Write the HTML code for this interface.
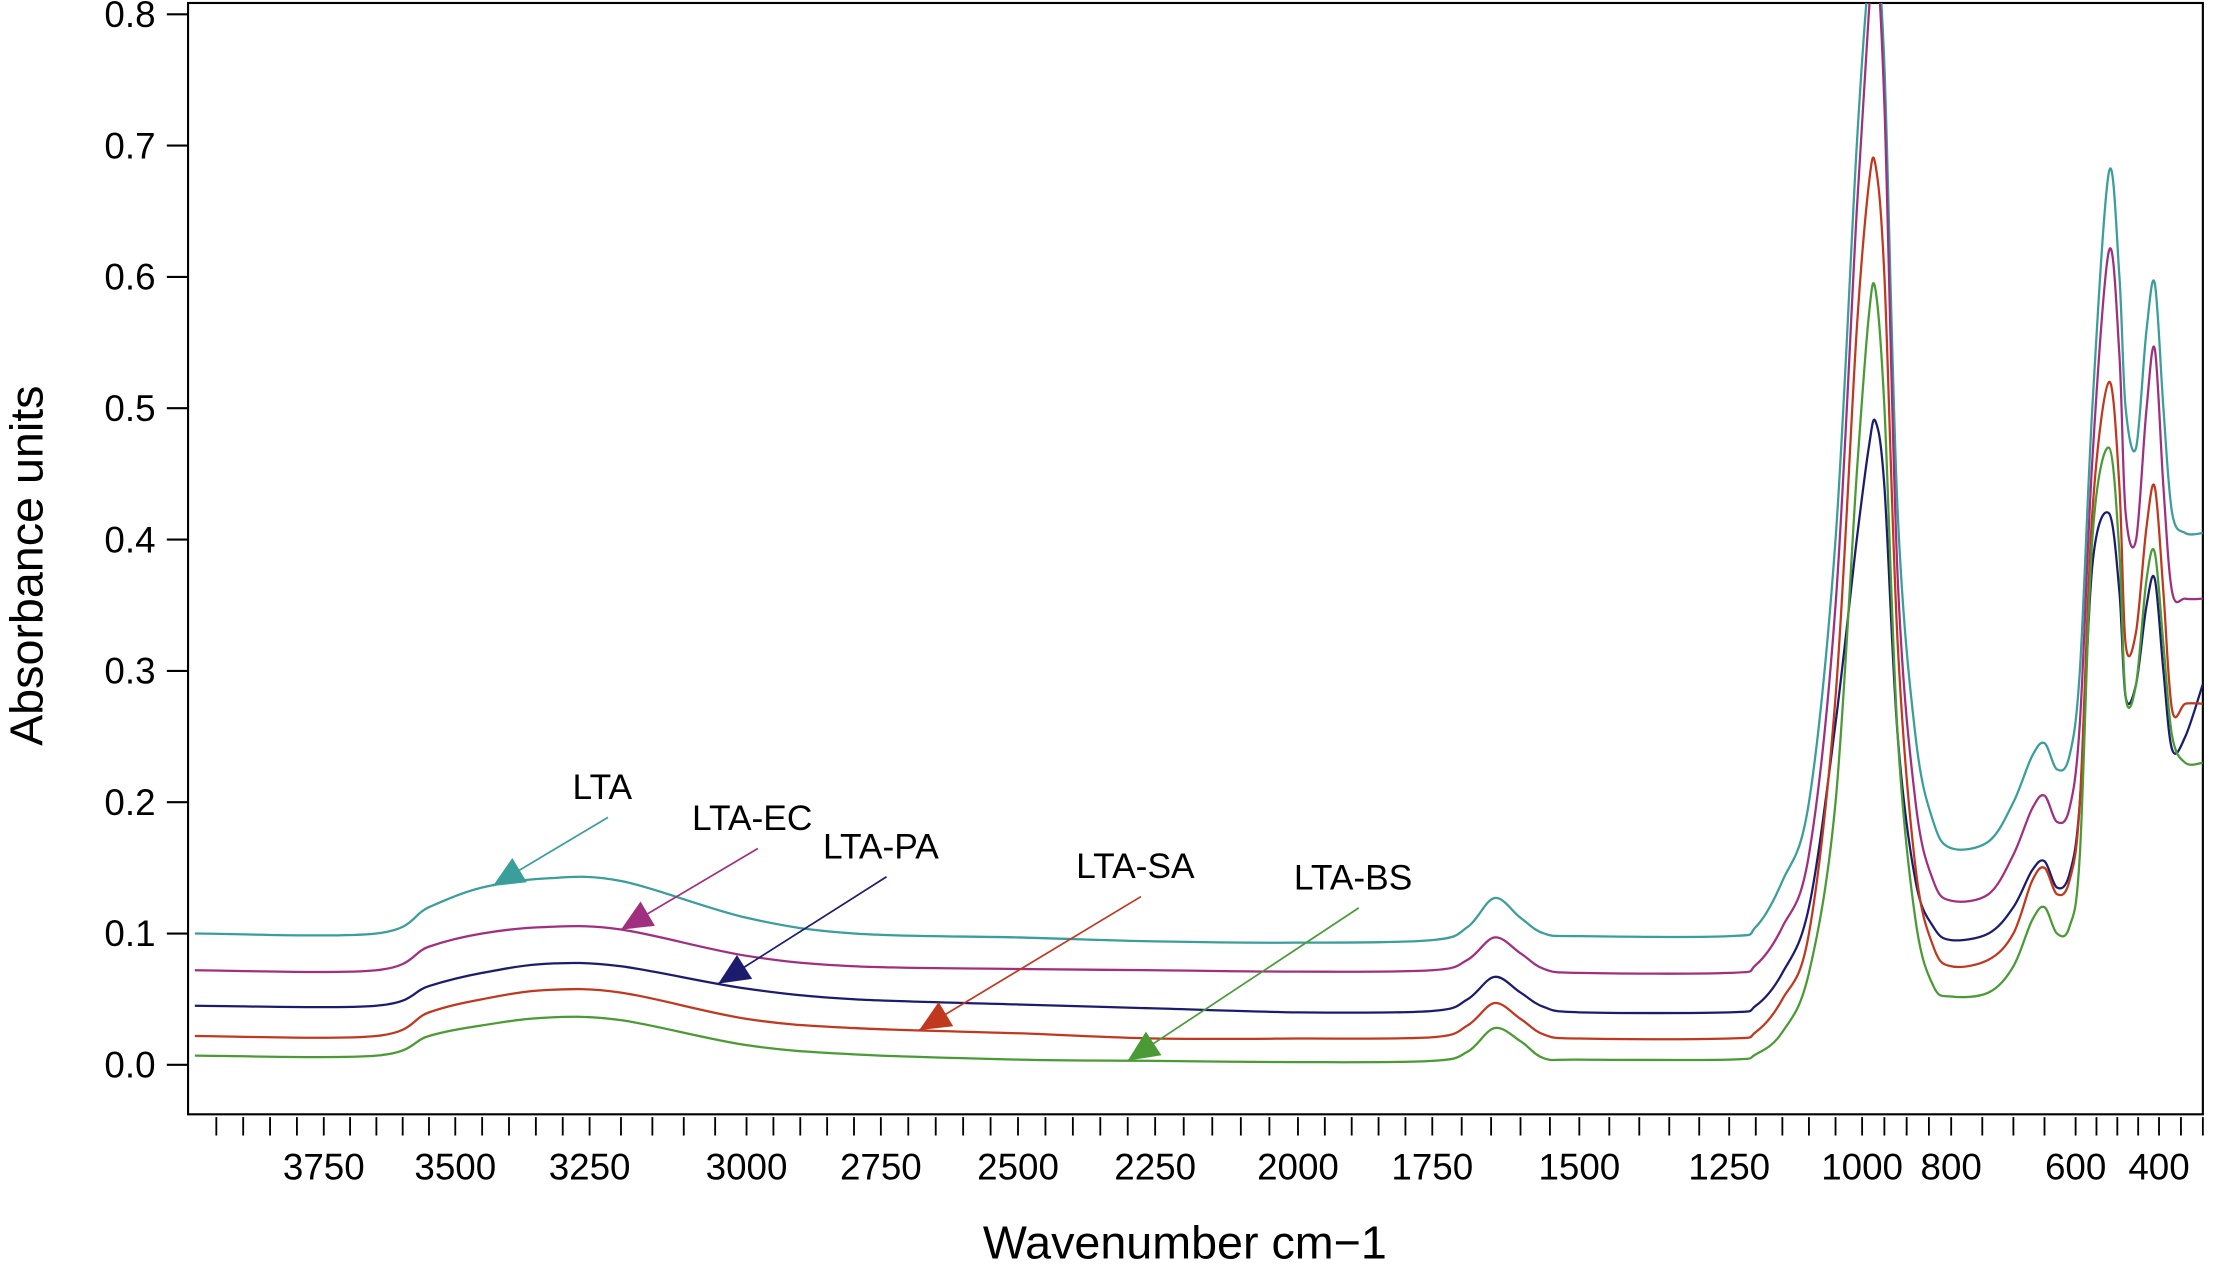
<!DOCTYPE html>
<html><head><meta charset="utf-8"><style>
html,body{margin:0;padding:0;background:#fff}
svg{display:block}
text{font-family:"Liberation Sans",Arial,sans-serif;fill:#000}
</style></head><body>
<svg id="chart" width="2217" height="1270" viewBox="0 0 1568 898" xmlns="http://www.w3.org/2000/svg">
<defs><clipPath id="pc"><rect x="133" y="2" width="1425" height="786"/></clipPath></defs>
<rect x="133" y="2" width="1425" height="786" fill="none" stroke="#000" stroke-width="1.5"/>
<g id="yaxis"></g>
<g id="xaxis"></g>
<g id="series" clip-path="url(#pc)"></g>
<g id="annot"></g>
<text transform="translate(30,400) rotate(-90)" text-anchor="middle" font-size="33">Absorbance units</text>
<text x="838" y="890" text-anchor="middle" font-size="33">Wavenumber cm−1</text>
</svg>
<script>
const wavenumbers=[3990,3650,3550,3450,3330,3200,3000,2800,2500,2250,2000,1750,1690,1644,1600,1560,1500,1250,1200,1150,1100,1050,1010,985,970,950,920,880,840,800,740,700,670,650,630,610,590,560,520,495,480,455,430,410,390,370,340,300];
const seriesNames=["LTA","LTA-EC","LTA-PA","LTA-SA","LTA-BS"];
const ltaValues=[.100,.100,.120,.135,.142,.140,.112,.100,.097,.094,.093,.095,.105,.127,.112,.100,.098,.098,.105,.140,.200,.400,.700,.830,.850,.760,.420,.250,.185,.165,.170,.200,.235,.245,.225,.235,.300,.500,.680,.600,.500,.470,.560,.595,.500,.420,.405,.405];
const ltaEcValues=[.072,.072,.090,.100,.105,.103,.083,.075,.073,.072,.071,.072,.080,.097,.085,.073,.070,.070,.076,.105,.160,.350,.650,.800,.850,.730,.370,.200,.140,.125,.130,.160,.195,.205,.185,.195,.260,.460,.620,.540,.420,.400,.500,.545,.440,.360,.355,.355];
const ltaPaValues=[.045,.045,.060,.070,.077,.075,.058,.050,.046,.043,.040,.041,.050,.067,.055,.044,.040,.040,.045,.070,.120,.260,.400,.470,.490,.440,.250,.140,.105,.095,.100,.120,.148,.155,.135,.145,.200,.380,.420,.360,.280,.290,.350,.370,.300,.240,.250,.290];
const ltaSaValues=[.022,.022,.040,.050,.057,.055,.035,.028,.024,.020,.020,.021,.030,.047,.035,.023,.020,.020,.025,.050,.100,.280,.560,.670,.685,.600,.320,.150,.090,.075,.080,.100,.140,.150,.130,.140,.200,.420,.520,.440,.320,.330,.410,.440,.360,.270,.275,.275];
const ltaBsValues=[.007,.007,.022,.030,.036,.034,.015,.008,.004,.003,.002,.003,.010,.028,.018,.005,.004,.004,.008,.025,.070,.200,.450,.570,.590,.500,.250,.110,.060,.052,.055,.075,.110,.120,.100,.105,.160,.400,.470,.390,.280,.290,.370,.390,.320,.250,.230,.230];
const yTicks=["0.0","0.1","0.2","0.3","0.4","0.5","0.6","0.7","0.8"];
const xTickLabels=[3750,3500,3250,3000,2750,2500,2250,2000,1750,1500,1250,1000,800,600,400];
const annotTargets=[3430,3200,3045,2680,2300];

const NS="http://www.w3.org/2000/svg";
const colors=["#3a9e9a","#a0307f","#1c1c6e","#c0391f","#4a9a35"];
const anchW=[4000,3750,3500,3250,3000,2750,2500,2250,2000,1750,1500,1250,1000,800,600,400,300];
const anchP=[134,229,322,417,528,623,720,817,918,1013,1117,1223,1317,1380,1468,1527,1558];
function xs(w){for(let i=0;i<anchW.length-1;i++){if(w<=anchW[i]&&w>=anchW[i+1]){const t=(anchW[i]-w)/(anchW[i]-anchW[i+1]);return anchP[i]+t*(anchP[i+1]-anchP[i]);}}return w>anchW[0]?anchP[0]:anchP[anchP.length-1];}
function ys(v){return 753-v*(743/0.8);}
function mk(tag,at,parent){const e=document.createElementNS(NS,tag);for(const k in at)e.setAttribute(k,at[k]);parent.appendChild(e);return e;}
function smoothPath(P){let d=`M${P[0][0].toFixed(1)},${P[0][1].toFixed(1)}`;
 for(let i=0;i<P.length-1;i++){const p0=P[i-1]||P[i],p1=P[i],p2=P[i+1],p3=P[i+2]||P[i+1];
  const c1x=p1[0]+(p2[0]-p0[0])/6,c1y=p1[1]+(p2[1]-p0[1])/6,c2x=p2[0]-(p3[0]-p1[0])/6,c2y=p2[1]-(p3[1]-p1[1])/6;
  d+=` C${c1x.toFixed(1)},${c1y.toFixed(1)} ${c2x.toFixed(1)},${c2y.toFixed(1)} ${p2[0].toFixed(1)},${p2[1].toFixed(1)}`;}
 return d;}

const ya=document.getElementById('yaxis');
yTicks.forEach(t=>{const y=ys(parseFloat(t));
 const l=mk('line',{x1:118,x2:133,y1:y,y2:y,stroke:'#000','stroke-width':1.5},ya);
 
 
 const tx=mk('text',{x:110,y:y+9,'text-anchor':'end','font-size':26},ya);
 
 
 tx.textContent=t;});

const xa=document.getElementById('xaxis');
const minor=[];for(let w=3950;w>=1000;w-=50)minor.push(w);for(let w=950;w>=300;w-=50)minor.push(w);
minor.forEach(w=>{const x=xs(w);
 const l=mk('line',{x1:x,x2:x,y1:790,y2:803,stroke:'#000','stroke-width':1.3},xa);
 
 });
xTickLabels.forEach(w=>{const tx=mk('text',{x:xs(w),y:834,'text-anchor':'middle','font-size':26},xa);
 
 
 tx.textContent=w;});

const sg=document.getElementById('series');
const allVals=[ltaValues,ltaEcValues,ltaPaValues,ltaSaValues,ltaBsValues];
allVals.forEach((vals,si)=>{
 const P=wavenumbers.map((w,i)=>[xs(w),ys(vals[i])]);
 const p=mk('path',{d:smoothPath(P),fill:'none',stroke:colors[si],'stroke-width':1.6,'stroke-linejoin':'round'},sg);
 
 });

const an=document.getElementById('annot');
const labelPos=[[426,565],[532,587],[623,607],[803,621],[957,629]];
annotTargets.forEach((w,si)=>{
 let v=allVals[si][0];
 for(let i=0;i<wavenumbers.length-1;i++){if(w<=wavenumbers[i]&&w>=wavenumbers[i+1]){const t=(wavenumbers[i]-w)/(wavenumbers[i]-wavenumbers[i+1]);v=allVals[si][i]+t*(allVals[si][i+1]-allVals[si][i]);break;}}
 const tx0=xs(w),ty0=ys(v);
 const [lx,ly]=labelPos[si];
 const sx=lx+4,sy=ly+13;
 const l=mk('line',{x1:sx,y1:sy,x2:tx0,y2:ty0,stroke:colors[si],'stroke-width':1.2},an);
 
 
 const ang=Math.atan2(ty0-sy,tx0-sx);const L=22,W=10;
 const bx=tx0-L*Math.cos(ang),by=ty0-L*Math.sin(ang);
 const px=-Math.sin(ang)*W,py=Math.cos(ang)*W;
 const tri=mk('polygon',{points:`${tx0},${ty0} ${bx+px},${by+py} ${bx-px},${by-py}`,fill:colors[si]},an);
 
 
 const t=mk('text',{x:lx,y:ly,'text-anchor':'middle','font-size':25},an);
 
 
 t.textContent=seriesNames[si];});
</script>
</body></html>
